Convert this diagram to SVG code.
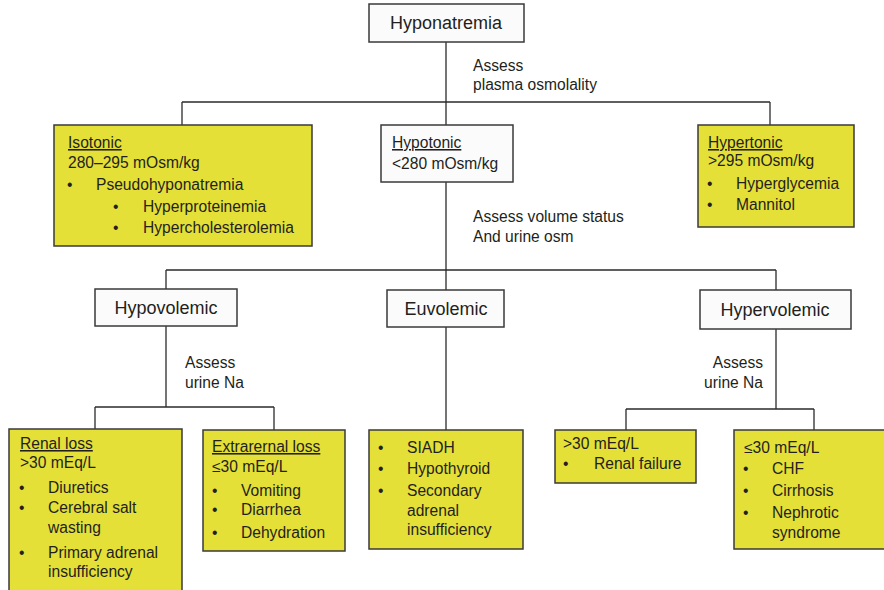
<svg xmlns="http://www.w3.org/2000/svg" width="884" height="590" viewBox="0 0 884 590">
<style>
text{font-family:"Liberation Sans",Arial,sans-serif;fill:#231f20;font-size:15.6px}
.big{font-size:18px}
.mid{text-anchor:middle}
.end{text-anchor:end}
.u{text-decoration:underline}
.y{fill:#e5e037;stroke:#3a3a3a;stroke-width:1.5}
.w{fill:#fbfbfb;stroke:#3a3a3a;stroke-width:1.5}
.c line{stroke:#2a2a2a;stroke-width:1.3}
</style>
<rect width="884" height="590" fill="#fff"/>
<g class="c" id="connectors">
<line x1="446" y1="42" x2="446" y2="125"/>
<line x1="182" y1="102" x2="770" y2="102"/>
<line x1="182" y1="102" x2="182" y2="125"/>
<line x1="770" y1="102" x2="770" y2="125"/>
<line x1="446" y1="182" x2="446" y2="290"/>
<line x1="166" y1="270" x2="776" y2="270"/>
<line x1="166" y1="270" x2="166" y2="289"/>
<line x1="776" y1="270" x2="776" y2="290"/>
<line x1="166" y1="326" x2="166" y2="407"/>
<line x1="95" y1="407" x2="274" y2="407"/>
<line x1="95" y1="407" x2="95" y2="429"/>
<line x1="274" y1="407" x2="274" y2="430"/>
<line x1="446" y1="327" x2="446" y2="430"/>
<line x1="776" y1="329" x2="776" y2="409"/>
<line x1="626" y1="409" x2="814" y2="409"/>
<line x1="626" y1="409" x2="626" y2="430"/>
<line x1="814" y1="409" x2="814" y2="430"/>
</g>
<g id="labels">
<text x="473" y="71">Assess</text>
<text x="473" y="90">plasma osmolality</text>
<text x="473" y="222">Assess volume status</text>
<text x="473" y="242">And urine osm</text>
<text x="185" y="368">Assess</text>
<text x="185" y="388">urine Na</text>
<text x="763" y="368" class="end">Assess</text>
<text x="763" y="388" class="end">urine Na</text>
</g>
<g id="hyponatremia">
<rect class="w" x="369" y="4" width="155" height="38"/>
<text class="big mid" x="446" y="29">Hyponatremia</text>
</g>
<g id="isotonic">
<rect class="y" x="54" y="125" width="258" height="121"/>
<text x="68" y="148" class="u">Isotonic</text>
<text x="68" y="168">280–295 mOsm/kg</text>
<text x="67" y="190">•</text><text x="96" y="190">Pseudohyponatremia</text>
<text x="113" y="212">•</text><text x="143" y="212">Hyperproteinemia</text>
<text x="113" y="233">•</text><text x="143" y="233">Hypercholesterolemia</text>
</g>
<g id="hypotonic">
<rect class="w" x="381" y="125" width="132" height="57"/>
<text x="392" y="148" class="u">Hypotonic</text>
<text x="392" y="169">&lt;280 mOsm/kg</text>
</g>
<g id="hypertonic">
<rect class="y" x="698" y="125" width="156" height="102"/>
<text x="708" y="148" class="u">Hypertonic</text>
<text x="708" y="166">&gt;295 mOsm/kg</text>
<text x="707" y="189">•</text><text x="736" y="189">Hyperglycemia</text>
<text x="707" y="210">•</text><text x="736" y="210">Mannitol</text>
</g>
<g id="hypovolemic">
<rect class="w" x="95" y="289" width="142" height="37"/>
<text class="big mid" x="166" y="314">Hypovolemic</text>
</g>
<g id="euvolemic">
<rect class="w" x="387" y="290" width="117" height="37"/>
<text class="big mid" x="446" y="315">Euvolemic</text>
</g>
<g id="hypervolemic">
<rect class="w" x="700" y="290" width="151" height="39"/>
<text class="big mid" x="775" y="316">Hypervolemic</text>
</g>
<g id="renal-loss">
<rect class="y" x="9" y="429" width="173" height="175"/>
<text x="20" y="449" class="u">Renal loss</text>
<text x="20" y="468">&gt;30 mEq/L</text>
<text x="19" y="493">•</text><text x="48" y="493">Diuretics</text>
<text x="19" y="513">•</text><text x="48" y="513">Cerebral salt</text>
<text x="48" y="533">wasting</text>
<text x="19" y="558">•</text><text x="48" y="558">Primary adrenal</text>
<text x="48" y="577">insufficiency</text>
</g>
<g id="extrarenal-loss">
<rect class="y" x="203" y="430" width="142" height="121"/>
<text x="212" y="452" class="u">Extrarernal loss</text>
<text x="212" y="472">≤30 mEq/L</text>
<text x="212" y="496">•</text><text x="241" y="496">Vomiting</text>
<text x="212" y="515">•</text><text x="241" y="515">Diarrhea</text>
<text x="212" y="538">•</text><text x="241" y="538">Dehydration</text>
</g>
<g id="euvolemic-causes">
<rect class="y" x="369" y="430" width="154" height="119"/>
<text x="378" y="453">•</text><text x="407" y="453">SIADH</text>
<text x="378" y="474">•</text><text x="407" y="474">Hypothyroid</text>
<text x="378" y="496">•</text><text x="407" y="496">Secondary</text>
<text x="407" y="516">adrenal</text>
<text x="407" y="535">insufficiency</text>
</g>
<g id="renal-failure">
<rect class="y" x="555" y="430" width="141" height="53"/>
<text x="563" y="449">&gt;30 mEq/L</text>
<text x="563" y="469">•</text><text x="594" y="469">Renal failure</text>
</g>
<g id="low-sodium">
<rect class="y" x="734" y="430" width="160" height="119"/>
<text x="744" y="453">≤30 mEq/L</text>
<text x="743" y="474">•</text><text x="772" y="474">CHF</text>
<text x="743" y="496">•</text><text x="772" y="496">Cirrhosis</text>
<text x="743" y="518">•</text><text x="772" y="518">Nephrotic</text>
<text x="772" y="538">syndrome</text>
</g>
</svg>
